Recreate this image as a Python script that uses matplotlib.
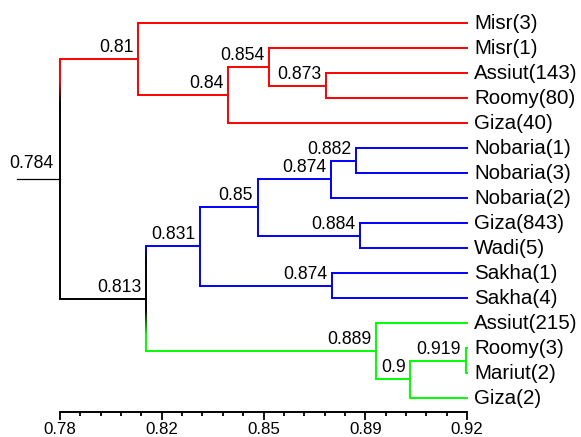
import numpy as np
import matplotlib
matplotlib.use("Agg")
import matplotlib.pyplot as plt
from matplotlib.ticker import FixedLocator
from matplotlib.colors import to_rgb

plt.rcParams['font.family'] = ['Liberation Sans', 'DejaVu Sans']

# ---------------- data ----------------
leaf_names = ['Misr(3)', 'Misr(1)', 'Assiut(143)', 'Roomy(80)', 'Giza(40)',
              'Nobaria(1)', 'Nobaria(3)', 'Nobaria(2)', 'Giza(843)', 'Wadi(5)',
              'Sakha(1)', 'Sakha(4)', 'Assiut(215)', 'Roomy(3)', 'Mariut(2)', 'Giza(2)']
leaf_cluster = ['red'] * 5 + ['blue'] * 7 + ['lime'] * 4
leaf_height = 0.92

# merges (ids: leaves 0..15, merge k -> 16+k)
merge_left = [2, 1, 17, 0, 5, 20, 8, 21, 10, 23, 13, 26, 12, 25, 19]
merge_right = [3, 16, 4, 18, 6, 7, 9, 22, 11, 24, 14, 15, 27, 28, 29]
merge_height = [0.8715, 0.852, 0.8378, 0.8068, 0.8818, 0.8732, 0.8832, 0.848,
                0.8736, 0.8282, 0.9195, 0.9004, 0.8887, 0.8096, 0.7800]
merge_label = ['0.873', '0.854', '0.84', '0.81', '0.882', '0.874', '0.884', '0.85',
               '0.874', '0.831', '0.919', '0.9', '0.889', '0.813', '0.784']
merge_cluster = ['red'] * 4 + ['blue'] * 6 + ['lime'] * 3 + ['black'] * 2

root_stub_end = 0.7652

tick_values = [0.78, 0.815, 0.85, 0.885, 0.92]
tick_labels = ['0.78', '0.82', '0.85', '0.89', '0.92']

# ---------------- figure ----------------
W, H = 581, 437
fig = plt.figure(figsize=(W / 100, H / 100), dpi=100)
ax = fig.add_axes([0, 0, 1, 1])
ppu = (467 - 60) / 0.14
ax.set_xlim(0.78 - 60 / ppu, 0.78 + (W - 60) / ppu)
y0, dy = 23.0, 25.0
ax.set_ylim((H - y0) / dy, -y0 / dy)

n_leaves = len(leaf_names)
ypos = {i: float(i) for i in range(n_leaves)}
hpos = {i: leaf_height for i in range(n_leaves)}
col = {i: leaf_cluster[i] for i in range(n_leaves)}
for k in range(len(merge_left)):
    nid = n_leaves + k
    a, b = merge_left[k], merge_right[k]
    ypos[nid] = (ypos[a] + ypos[b]) / 2
    hpos[nid] = merge_height[k]
    col[nid] = merge_cluster[k]

LW = 1.4


def grad_vertical(x, ya, yb, ctop, cbot, cmid, top_solid, top_fade, bot_solid, bot_fade):
    ys = np.linspace(ya, yb, 300)
    ct, cb, cm = np.array(to_rgb(ctop)), np.array(to_rgb(cbot)), np.array(to_rgb(cmid))
    for i in range(len(ys) - 1):
        yc = (ys[i] + ys[i + 1]) / 2
        dt = yc - ya
        db = yb - yc
        if dt < top_solid:
            c = ct
        elif dt < top_solid + top_fade:
            t = (dt - top_solid) / top_fade
            c = ct * (1 - t) + cm * t
        elif db < bot_solid:
            c = cb
        elif db < bot_solid + bot_fade:
            t = (db - bot_solid) / bot_fade
            c = cb * (1 - t) + cm * t
        else:
            c = cm
        ax.plot([x, x], [ys[i], ys[i + 1]], color=c, lw=LW, solid_capstyle='butt')


grad_params = {
    n_leaves + 14: (0.85, 0.9, 0.0, 0.01),
    n_leaves + 13: (0.0, 0.5, 0.65, 1.0),
}

for k in range(len(merge_left)):
    nid = n_leaves + k
    a, b = merge_left[k], merge_right[k]
    h = hpos[nid]
    for c in (a, b):
        ax.plot([h, hpos[c]], [ypos[c], ypos[c]], color=col[c], lw=LW,
                solid_capstyle='projecting')
    if nid in grad_params:
        ts, tf, bs, bf = grad_params[nid]
        grad_vertical(h, ypos[a], ypos[b], col[a], col[b], 'black', ts, tf, bs, bf)
    else:
        ax.plot([h, h], [ypos[a], ypos[b]], color=col[nid], lw=LW,
                solid_capstyle='projecting')
    if nid == n_leaves + len(merge_left) - 1:
        ax.plot([root_stub_end, h], [ypos[nid], ypos[nid]], color='black', lw=0.9)
        ax.annotate(merge_label[k], (h, ypos[nid]), xytext=(-5, 7.5),
                    textcoords='offset points', ha='right', va='baseline',
                    fontsize=12.7)
    else:
        ax.annotate(merge_label[k], (h, ypos[nid]), xytext=(-3.2, 5),
                    textcoords='offset points', ha='right', va='baseline',
                    fontsize=12.7)

for i, name in enumerate(leaf_names):
    ax.annotate(name, (leaf_height, ypos[i]), xytext=(5, 0),
                textcoords='offset points', ha='left', va='center', fontsize=14.8)

# axis
for s in ('left', 'top', 'right'):
    ax.spines[s].set_visible(False)
axis_y = (412 - y0) / dy
ax.spines['bottom'].set_position(('data', axis_y))
ax.spines['bottom'].set_bounds(0.78, 0.92)
ax.spines['bottom'].set_linewidth(1.4)
ax.set_xticks(tick_values)
ax.set_xticklabels(tick_labels, fontsize=12.2)
ax.xaxis.set_minor_locator(FixedLocator(np.linspace(0.78, 0.92, 21)))
ax.tick_params(axis='x', which='major', direction='out', length=6, width=1.3, pad=1.0)
ax.tick_params(axis='x', which='minor', direction='out', length=3, width=1.3)
ax.tick_params(axis='y', left=False, labelleft=False)
ax.set_facecolor('white')
fig.patch.set_facecolor('white')

fig.savefig('out.png', dpi=100, facecolor='white')
